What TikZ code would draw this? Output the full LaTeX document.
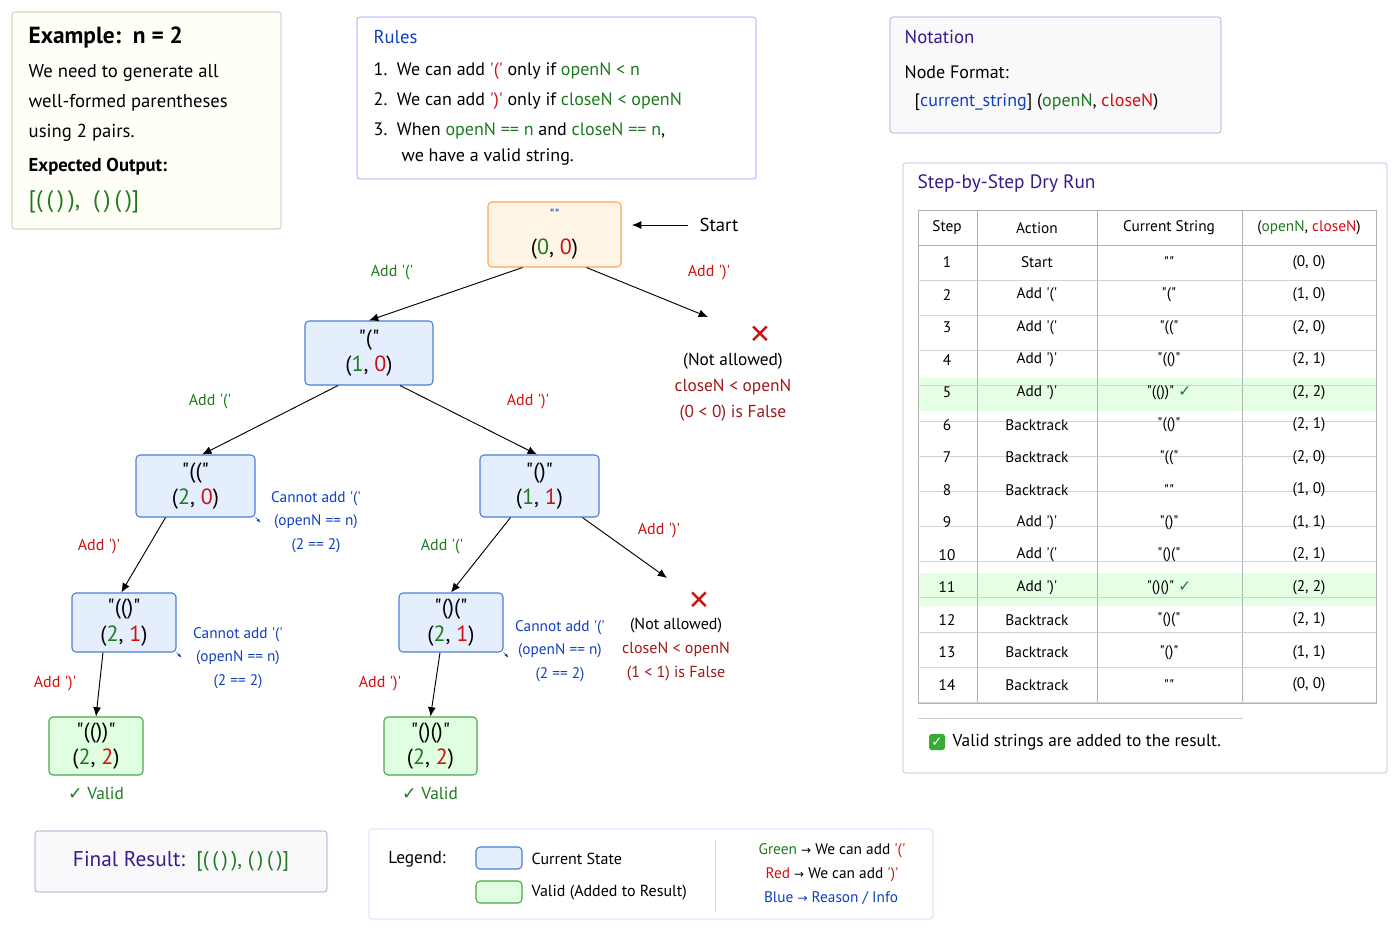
\documentclass[tikz,border=0pt]{standalone}
\usepackage{fontspec}
\setmainfont{PT Sans}
\newfontfamily\djv{DejaVu Sans}
\usetikzlibrary{arrows.meta}
\definecolor{gn}{HTML}{1E7A1E}
\definecolor{rd}{HTML}{D01010}
\definecolor{bl}{HTML}{1040C0}
\definecolor{pu}{HTML}{3A1A8A}
\definecolor{dk}{HTML}{A01818}
\definecolor{bfill}{HTML}{E4EEFC}
\definecolor{bdraw}{HTML}{4A7FD8}
\newcommand{\dq}{\textquotedbl}
\newcommand{\sq}{\textquotesingle}
\newcommand{\ar}{{\djv\fontsize{9}{11}\selectfont →}}
\newcommand{\ck}{{\djv ✓}}
\tikzset{
 bnode/.style={draw=bdraw,fill=bfill,rounded corners=3pt,line width=0.8pt},
 gnode/.style={draw=green!50!black!70,fill=green!12,rounded corners=3pt,line width=0.8pt},
 arr/.style={-{Latex[length=7pt,width=6pt]},line width=0.7pt},
 lab/.style={font=\fontsize{12}{14}\selectfont},
 ntext/.style={font=\fontsize{16.5}{20}\selectfont,align=center},
}
\begin{document}
\begin{tikzpicture}[x=0.75pt,y=-0.75pt]
\useasboundingbox (0,0) rectangle (1400,933);
% Example box
\node[draw=green!30!black!35,fill=green!5!yellow!3,rounded corners=2pt,minimum width=269*0.75pt,minimum height=217*0.75pt] (ex) at (146.5,120.5) {};
\node[anchor=west,font=\fontsize{17.5}{20}\selectfont\bfseries] (ext) at (24,37) {Example:\ \ n = 2};
\node[anchor=north west,align=left,font=\fontsize{14}{22.5}\selectfont] (exd) at (24,60) {We need to generate all\\well-formed parentheses\\using 2 pairs.};
\node[anchor=west,font=\fontsize{14}{16}\selectfont\bfseries] (exo) at (24,167) {Expected Output:};
\node[anchor=west,text=gn,font=\fontsize{18}{20}\selectfont] (exr) at (24,202) {[(\,(\,)\,),\ \ (\,)\,(\,)]};
% Rules
\node[draw=blue!45,rounded corners=2pt,minimum width=399*0.75pt,minimum height=162*0.75pt] (rb) at (556.5,98) {};
\node[anchor=west,text=bl,font=\fontsize{14}{16}\selectfont] (rt) at (369,37) {Rules};
\node[anchor=west,font=\fontsize{13.5}{15}\selectfont] (r1) at (369,71) {1.\ \ We can add \textcolor{rd}{\sq(\sq} only if \textcolor{gn}{openN < n}};
\node[anchor=west,font=\fontsize{13.5}{15}\selectfont] (r2) at (369,101) {2.\ \ We can add \textcolor{rd}{\sq)\sq} only if \textcolor{gn}{closeN < openN}};
\node[anchor=west,font=\fontsize{13.5}{15}\selectfont] (r3) at (369,131) {3.\ \ When \textcolor{gn}{openN == n} and \textcolor{gn}{closeN == n},};
\node[anchor=west,font=\fontsize{13.5}{15}\selectfont] (r4) at (397,157) {we have a valid string.};
% Notation
\node[draw=pu!45,fill=pu!3,rounded corners=2pt,minimum width=331*0.75pt,minimum height=116*0.75pt] (nb) at (1055.5,75) {};
\node[anchor=west,text=pu,font=\fontsize{14}{16}\selectfont] (nt) at (900,37) {Notation};
\node[anchor=west,font=\fontsize{13.5}{15}\selectfont] (nf) at (900,72) {Node Format:};
\node[anchor=west,font=\fontsize{13.5}{15}\selectfont] (nf2) at (910,102) {[\textcolor{bl}{current\_string}] (\textcolor{gn}{openN}, \textcolor{rd}{closeN})};
% Table
\node[draw=pu!35,rounded corners=2pt,minimum width=484*0.75pt,minimum height=610*0.75pt] (tb) at (1145,468) {};
\node[anchor=west,text=pu,font=\fontsize{14.5}{16}\selectfont] (tt) at (913,184) {Step-by-Step Dry Run};
\fill[green!10] (918,378) rectangle (1376,411);
\fill[green!10] (918,573) rectangle (1376,606);
\draw[gray!60,line width=0.6pt] (918,210) rectangle (1376,703);
\foreach \x in {977,1097,1242} \draw[gray!60,line width=0.6pt] (\x,210)--(\x,703);
\draw[gray!60,line width=0.6pt] (918,245)--(1376,245);
\foreach \i in {1,...,13} \draw[gray!35,line width=0.5pt] (918,245+\i*35.2)--(1376,245+\i*35.2);
\begin{scope}[every node/.style={font=\fontsize{11.5}{13}\selectfont}]
\node (h1) at (947,228) {Step};
\node (h2) at (1037,228) {Action};
\node (h3) at (1169,228) {Current String};
\node (h4) at (1309,228) {(\textcolor{gn}{openN}, \textcolor{rd}{closeN})};
\foreach \n/\a/\s/\p [count=\i] in {1/Start/\dq\dq/{(0, 0)},2/Add \sq(\sq/\dq(\dq/{(1, 0)},3/Add \sq(\sq/\dq((\dq/{(2, 0)},4/Add \sq)\sq/\dq(()\dq/{(2, 1)},5/Add \sq)\sq/{\dq(())\dq\ \textcolor{gn}{\ck}}/{(2, 2)},6/Backtrack/\dq(()\dq/{(2, 1)},7/Backtrack/\dq((\dq/{(2, 0)},8/Backtrack/\dq\dq/{(1, 0)},9/Add \sq)\sq/\dq()\dq/{(1, 1)},10/Add \sq(\sq/\dq()(\dq/{(2, 1)},11/Add \sq)\sq/{\dq()()\dq\ \textcolor{gn}{\ck}}/{(2, 2)},12/Backtrack/\dq()(\dq/{(2, 1)},13/Backtrack/\dq()\dq/{(1, 1)},14/Backtrack/\dq\dq/{(0, 0)}}{
 \node (c1\i) at (947,228+\i*32.5+2) {\n};
 \node (c2\i) at (1037,228+\i*32.5+2) {\a};
 \node (c3\i) at (1169,228+\i*32.5+2) {\s};
 \node (c4\i) at (1309,228+\i*32.5+2) {\p};
}
\end{scope}
\draw[gray!40] (918,718)--(1243,718);
\node[fill=green!60!black!80,rounded corners=2pt,minimum size=12pt,inner sep=0pt,text=white,font=\djv\bfseries\fontsize{10}{10}\selectfont] (tfb) at (937,742) {✓};
\node[anchor=west,font=\fontsize{13}{15}\selectfont] (tf) at (948,742) {Valid strings are added to the result.};
% Tree nodes
\node[draw=orange!70,fill=yellow!10!orange!8,rounded corners=3pt,line width=0.8pt,minimum width=133*0.75pt,minimum height=65*0.75pt,ntext] (root) at (554.5,234.5) {\textcolor{bl}{\fontsize{11}{11}\selectfont\dq\dq}\\[6pt](\textcolor{gn}{0}, \textcolor{rd}{0})};
\node[bnode,minimum width=128*0.75pt,minimum height=64*0.75pt,ntext] (n1) at (369,353) {\dq(\dq\\(\textcolor{gn}{1}, \textcolor{rd}{0})};
\node[bnode,minimum width=119*0.75pt,minimum height=62*0.75pt,ntext] (n2) at (195.5,486) {\dq((\dq\\(\textcolor{gn}{2}, \textcolor{rd}{0})};
\node[bnode,minimum width=119*0.75pt,minimum height=62*0.75pt,ntext] (n3) at (539.5,486) {\dq()\dq\\(\textcolor{gn}{1}, \textcolor{rd}{1})};
\node[bnode,minimum width=104*0.75pt,minimum height=59*0.75pt,ntext] (n4) at (124,622.5) {\dq(()\dq\\(\textcolor{gn}{2}, \textcolor{rd}{1})};
\node[bnode,minimum width=104*0.75pt,minimum height=59*0.75pt,ntext] (n5) at (451,622.5) {\dq()(\dq\\(\textcolor{gn}{2}, \textcolor{rd}{1})};
\node[gnode,minimum width=94*0.75pt,minimum height=58*0.75pt,ntext] (n6) at (96,746) {\dq(())\dq\\(\textcolor{gn}{2}, \textcolor{rd}{2})};
\node[gnode,minimum width=93*0.75pt,minimum height=58*0.75pt,ntext] (n7) at (430.5,746) {\dq()()\dq\\(\textcolor{gn}{2}, \textcolor{rd}{2})};
\coordinate (x1) at (708,317);
\coordinate (x2) at (667,578);
\coordinate (s0) at (688,225);
\coordinate (s1) at (632,225);
% arrows
\draw[arr] (root.south)++(-32,0) -- (n1.north);
\draw[arr] (root.south)++(32,0) -- (x1);
\draw[arr] (s0) -- (s1);
\draw[arr] (n1.south)++(-31,0) -- ([xshift=5]n2.north);
\draw[arr] (n1.south)++(31,0) -- ([xshift=-2]n3.north);
\draw[arr] (n2.south)++(-30,0) -- ([xshift=-2]n4.north);
\draw[arr] (n3.south)++(-29,0) -- (n5.north);
\draw[arr] (n3.south)++(43,0) -- (x2);
\draw[arr] (n4.south)++(-21,0) -- (n6.north);
\draw[arr] (n5.south)++(-11,0) -- (n7.north);
% labels
\node[lab,text=gn] (l1) at (392,273) {Add \sq(\sq};
\node[lab,text=rd] (l2) at (709,273) {Add \sq)\sq};
\node[font=\fontsize{14}{15}\selectfont] (lst) at (719,225) {Start};
\node[lab,text=gn] (l3) at (210,402) {Add \sq(\sq};
\node[lab,text=rd] (l4) at (528,402) {Add \sq)\sq};
\node[lab,text=rd] (l5) at (99,547) {Add \sq)\sq};
\node[lab,text=gn] (l6) at (442,547) {Add \sq(\sq};
\node[lab,text=rd] (l7) at (659,531) {Add \sq)\sq};
\node[lab,text=rd] (l8) at (55,684) {Add \sq)\sq};
\node[lab,text=rd] (l9) at (380,684) {Add \sq)\sq};
\node[text=rd,font=\djv\fontsize{20}{20}\selectfont,inner sep=0pt] (x1m) at (760,335) {✕};
\node[align=center,font=\fontsize{13}{19.5}\selectfont] (na1) at (733,387) {(Not allowed)\\\textcolor{dk}{closeN < openN}\\\textcolor{dk}{(0 < 0) is False}};
\node[text=rd,font=\djv\fontsize{20}{20}\selectfont,inner sep=0pt] (x2m) at (699,601) {✕};
\node[align=center,font=\fontsize{12}{18}\selectfont] (na2) at (676,650) {(Not allowed)\\\textcolor{dk}{closeN < openN}\\\textcolor{dk}{(1 < 1) is False}};
\node[align=center,text=bl,font=\fontsize{11.5}{17.5}\selectfont] (c2) at (316,522) {Cannot add \sq(\sq\\(openN == n)\\(2 == 2)};
\node[align=center,text=bl,font=\fontsize{11.5}{17.5}\selectfont] (c4) at (238,658) {Cannot add \sq(\sq\\(openN == n)\\(2 == 2)};
\node[align=center,text=bl,font=\fontsize{11.5}{17.5}\selectfont] (c5) at (560,651) {Cannot add \sq(\sq\\(openN == n)\\(2 == 2)};
\draw[bl,-{Latex[length=3pt]}] (n2.south east) -- ++(5,5);
\draw[bl,-{Latex[length=3pt]}] (n4.south east) -- ++(5,5);
\draw[bl,-{Latex[length=3pt]}] (n5.south east) -- ++(5,5);
\node[text=gn,font=\fontsize{13}{15}\selectfont] (v1) at (96,793) {\ck\ Valid};
\node[text=gn,font=\fontsize{13}{15}\selectfont] (v2) at (430,793) {\ck\ Valid};
% Final result
\node[draw=pu!50,fill=pu!3,rounded corners=2pt,minimum width=292*0.75pt,minimum height=61*0.75pt,font=\fontsize{16}{18}\selectfont] (fr) at (181,861.5) {\textcolor{pu}{Final Result:}\ \ \textcolor{gn}{[(\,(\,)\,),\ (\,)\,(\,)]}};
% Legend
\node[draw=blue!20,rounded corners=2pt,minimum width=564*0.75pt,minimum height=90*0.75pt] (lg) at (651,874) {};
\node[font=\fontsize{13}{15}\selectfont] (lgt) at (417,859) {Legend:};
\node[bnode,minimum width=46*0.75pt,minimum height=22*0.75pt] (lb1) at (499,858) {};
\node[gnode,minimum width=46*0.75pt,minimum height=22*0.75pt] (lb2) at (499,892) {};
\node[anchor=west,font=\fontsize{12}{14}\selectfont] (lt1) at (527,859) {Current State};
\node[anchor=west,font=\fontsize{12}{14}\selectfont] (lt2) at (527,893) {Valid (Added to Result)};
\draw[gray!30] (715,840)--(715,912);
\node[font=\fontsize{11.5}{13}\selectfont] (g1) at (832,851) {\textcolor{gn}{Green} \ar\ We can add \textcolor{rd}{\sq(\sq}};
\node[font=\fontsize{11.5}{13}\selectfont] (g2) at (832,875) {\textcolor{rd}{Red} \ar\ We can add \textcolor{rd}{\sq)\sq}};
\node[font=\fontsize{11.5}{13}\selectfont,text=bl] (g3) at (831,898) {Blue \ar\ Reason / Info};
\end{tikzpicture}
\end{document}
